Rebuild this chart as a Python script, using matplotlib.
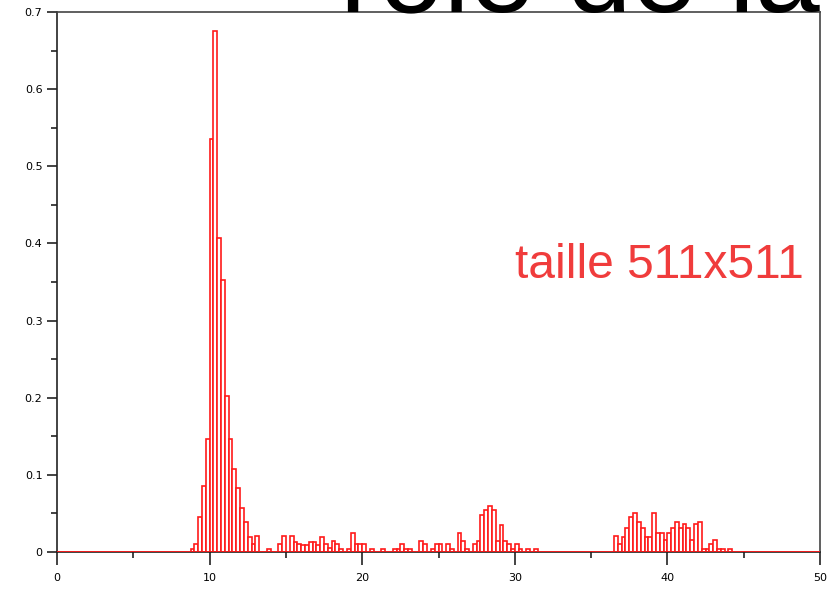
import matplotlib
matplotlib.use("Agg")
import matplotlib.pyplot as plt
from matplotlib.ticker import MultipleLocator, FixedLocator

# ---- data (histogram bins of width 0.25, left edges) ----
bin_width = 0.25
bin_left = [8.75, 9.0, 9.25, 9.5, 9.75, 10.0, 10.25, 10.5, 10.75, 11.0,
            11.25, 11.5, 11.75, 12.0, 12.25, 12.5, 12.75, 13.0, 13.75, 14.5,
            14.75, 15.25, 15.5, 15.75, 16.0, 16.25, 16.5, 16.75, 17.0, 17.25,
            17.5, 17.75, 18.0, 18.25, 18.5, 19.0, 19.25, 19.5, 19.75, 20.0,
            20.5, 21.25, 22.0, 22.25, 22.5, 22.75, 23.0, 23.75, 24.0, 24.5,
            24.75, 25.0, 25.5, 25.75, 26.25, 26.5, 26.75, 27.25, 27.5, 27.75,
            28.0, 28.25, 28.5, 28.75, 29.0, 29.25, 29.5, 29.75, 30.0, 30.25,
            30.75, 31.25,
            36.5, 36.75, 37.0, 37.25, 37.5, 37.75, 38.0, 38.25, 38.5, 38.75,
            39.0, 39.25, 39.5, 39.75, 40.0, 40.25, 40.5, 40.75, 41.0, 41.25,
            41.5, 41.75, 42.0, 42.25, 42.5, 42.75, 43.0, 43.25, 43.5, 44.0]
freq = [0.004, 0.011, 0.046, 0.086, 0.146, 0.536, 0.675, 0.407, 0.352, 0.202,
        0.146, 0.107, 0.083, 0.057, 0.039, 0.020, 0.011, 0.021, 0.004, 0.010,
        0.021, 0.021, 0.013, 0.011, 0.009, 0.009, 0.013, 0.013, 0.009, 0.020,
        0.010, 0.005, 0.014, 0.010, 0.004, 0.004, 0.024, 0.010, 0.010, 0.010,
        0.004, 0.004, 0.004, 0.004, 0.010, 0.004, 0.004, 0.014, 0.010, 0.004,
        0.010, 0.010, 0.010, 0.004, 0.024, 0.014, 0.004, 0.010, 0.014, 0.048,
        0.055, 0.059, 0.055, 0.014, 0.035, 0.014, 0.010, 0.004, 0.010, 0.004,
        0.004, 0.004,
        0.021, 0.011, 0.020, 0.031, 0.046, 0.050, 0.039, 0.031, 0.020, 0.020,
        0.050, 0.025, 0.025, 0.015, 0.025, 0.031, 0.039, 0.031, 0.036, 0.031,
        0.015, 0.036, 0.039, 0.004, 0.004, 0.011, 0.015, 0.004, 0.004, 0.004]

x_ticks = [0, 10, 20, 30, 40, 50]
y_ticks = [0, 0.1, 0.2, 0.3, 0.4, 0.5, 0.6, 0.7]
y_ticklabels = ["0", "0.1", "0.2", "0.3", "0.4", "0.5", "0.6", "0.7"]
annotation = "taille 511x511"
title_text = "rôle de la taille"

fig = plt.figure(figsize=(8.32, 5.89), dpi=100)
ax = fig.add_axes([57/832, 37/589, (820-57)/832, (552-12)/589])

ax.bar(bin_left, freq, width=bin_width, align="edge",
       facecolor="white", edgecolor="#ff1a1a", linewidth=1.2, zorder=2)
ax.axhline(0, color="#ff1a1a", linewidth=1.3, zorder=3)

ax.set_xlim(0, 50)
ax.set_ylim(0, 0.7)
ax.xaxis.set_major_locator(FixedLocator(x_ticks))
ax.xaxis.set_minor_locator(MultipleLocator(5))
ax.yaxis.set_major_locator(FixedLocator(y_ticks))
ax.yaxis.set_minor_locator(MultipleLocator(0.05))
ax.set_yticklabels(y_ticklabels)
ax.tick_params(axis="both", which="major", direction="out", length=7,
               width=1.2, labelsize=8, color="#222222")
ax.tick_params(axis="both", which="minor", direction="out", length=4,
               width=1.2, color="#222222")
ax.tick_params(axis="x", which="major", length=9, pad=6)
for s in ["left", "bottom"]:
    ax.spines[s].set_color("#222222")
    ax.spines[s].set_linewidth(1.2)
for s in ["right", "top"]:
    ax.spines[s].set_color("#444444")
    ax.spines[s].set_linewidth(1.2)

fig.text(515/832, 1 - 265/589, annotation,
         fontsize=34.5, color="#f03c3c", family="Liberation Sans",
         ha="left", va="center")
fig.text(340/832, 1 - 11/589, title_text, fontsize=84, color="black",
         family="Liberation Sans", ha="left", va="baseline", zorder=0)

fig.savefig("out.png", dpi=100)
